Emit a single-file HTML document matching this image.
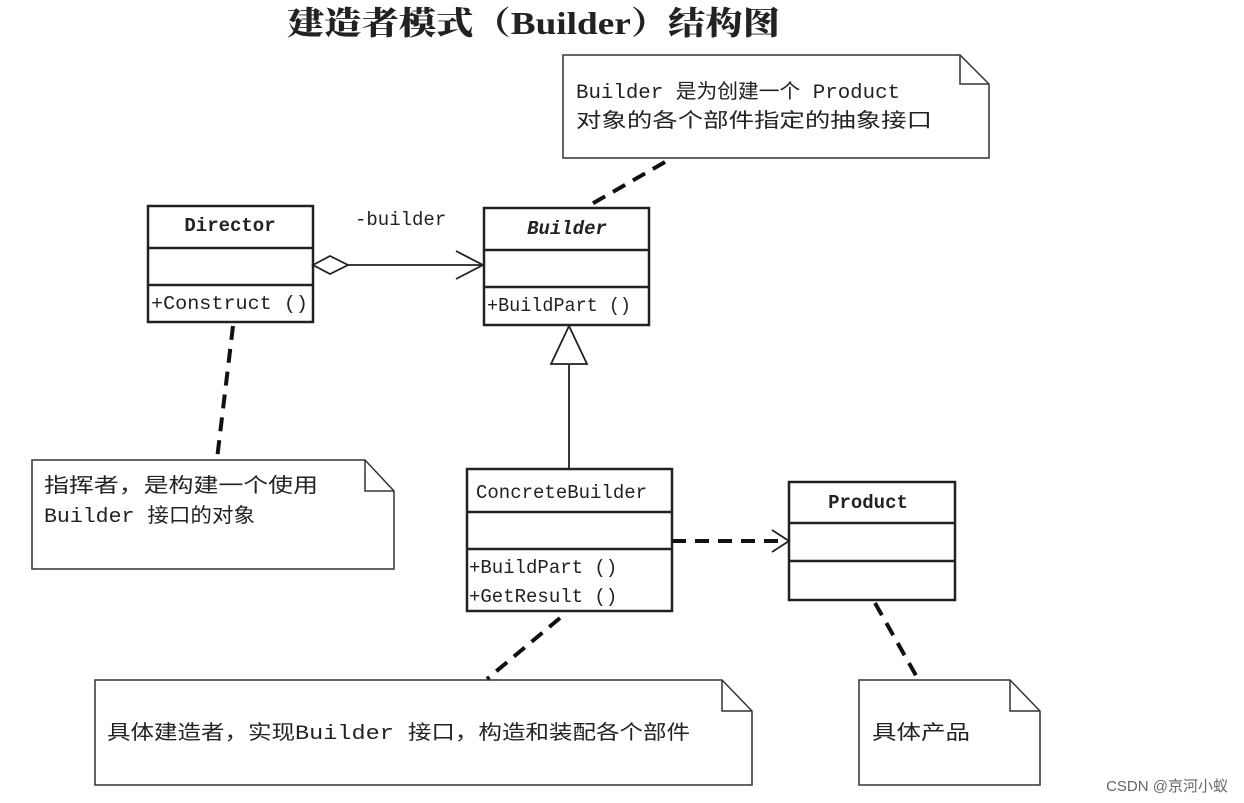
<!DOCTYPE html>
<html><head><meta charset="utf-8"><style>
html,body{margin:0;padding:0;background:#fff;}
svg{display:block;}
text{font-family:"Liberation Mono","Noto Sans CJK SC",monospace;fill:#222;}
</style></head><body>
<svg width="1244" height="803" viewBox="0 0 1244 803" xmlns="http://www.w3.org/2000/svg">
<rect width="1244" height="803" fill="#fff"/>
<text x="287" y="34" font-size="32" font-weight="bold" textLength="493" lengthAdjust="spacingAndGlyphs" style="font-family:'Liberation Serif','Noto Serif CJK SC',serif;font-weight:900">建造者模式（Builder）结构图</text>

<g fill="#fff" stroke="#333" stroke-width="1.5">
<path d="M563,55 H960 L989,84 V158 H563 Z"/>
<path d="M960,55 V84 H989" fill="none"/>
<path d="M32,460 H365 L394,491 V569 H32 Z"/>
<path d="M365,460 V491 H394" fill="none"/>
<path d="M95,680 H722 L752,711 V785 H95 Z"/>
<path d="M722,680 V711 H752" fill="none"/>
<path d="M859,680 H1010 L1040,711 V785 H859 Z"/>
<path d="M1010,680 V711 H1040" fill="none"/>
</g>

<g fill="#fff" stroke="#222" stroke-width="2.5">
<rect x="148" y="206" width="165" height="116"/>
<line x1="148" y1="248" x2="313" y2="248"/><line x1="148" y1="285" x2="313" y2="285"/>
<rect x="484" y="208" width="165" height="117"/>
<line x1="484" y1="250" x2="649" y2="250"/><line x1="484" y1="287" x2="649" y2="287"/>
<rect x="467" y="469" width="205" height="142"/>
<line x1="467" y1="512" x2="672" y2="512"/><line x1="467" y1="549" x2="672" y2="549"/>
<rect x="789" y="482" width="166" height="118"/>
<line x1="789" y1="523" x2="955" y2="523"/><line x1="789" y1="561" x2="955" y2="561"/>
</g>

<g fill="none" stroke="#222" stroke-width="1.8">
<line x1="348" y1="265" x2="483" y2="265"/>
<polyline points="456,251 483,265 456,279"/>
<polygon points="313,265 330,256 348,265 330,274" fill="#fff"/>
<line x1="569" y1="365" x2="569" y2="469"/>
<polygon points="569,326 551,364 587,364" fill="#fff"/>
<polyline points="772,530 789,541 772,552"/>
</g>
<g fill="none" stroke="#111" stroke-width="4" stroke-dasharray="14,9">
<line x1="665" y1="162" x2="590" y2="205"/>
<line x1="233" y1="326" x2="217" y2="459"/>
<line x1="672" y1="541" x2="787" y2="541"/>
<line x1="560" y1="618" x2="487" y2="679"/>
<line x1="875" y1="603" x2="918" y2="679"/>
</g>

<g font-size="19">
<text x="230" y="231" text-anchor="middle" font-weight="bold">Director</text>
<text x="151" y="309" textLength="157" lengthAdjust="spacingAndGlyphs">+Construct ()</text>
<text x="567" y="234" text-anchor="middle" font-weight="bold" font-style="italic">Builder</text>
<text x="487" y="311" textLength="144" lengthAdjust="spacingAndGlyphs">+BuildPart ()</text>
<text x="355" y="225">-builder</text>
<text x="476" y="498">ConcreteBuilder</text>
<text x="469" y="573">+BuildPart ()</text>
<text x="469" y="602">+GetResult ()</text>
<text x="868" y="508" text-anchor="middle" font-weight="bold">Product</text>
</g>

<g font-size="20">
<text x="576" y="98" textLength="324" lengthAdjust="spacingAndGlyphs">Builder 是为创建一个 Product</text>
<text x="576" y="127" textLength="356" lengthAdjust="spacingAndGlyphs">对象的各个部件指定的抽象接口</text>
<text x="44" y="492" textLength="274" lengthAdjust="spacingAndGlyphs">指挥者，是构建一个使用</text>
<text x="44" y="522" textLength="211" lengthAdjust="spacingAndGlyphs">Builder 接口的对象</text>
<text x="107" y="739" textLength="583" lengthAdjust="spacingAndGlyphs">具体建造者，实现Builder 接口，构造和装配各个部件</text>
<text x="872" y="739" textLength="98" lengthAdjust="spacingAndGlyphs">具体产品</text>
</g>
<text x="1228" y="791" text-anchor="end" font-size="15" style="font-family:'Liberation Sans','Noto Sans CJK SC',sans-serif;fill:#666">CSDN @京河小蚁</text>
</svg>
</body></html>
